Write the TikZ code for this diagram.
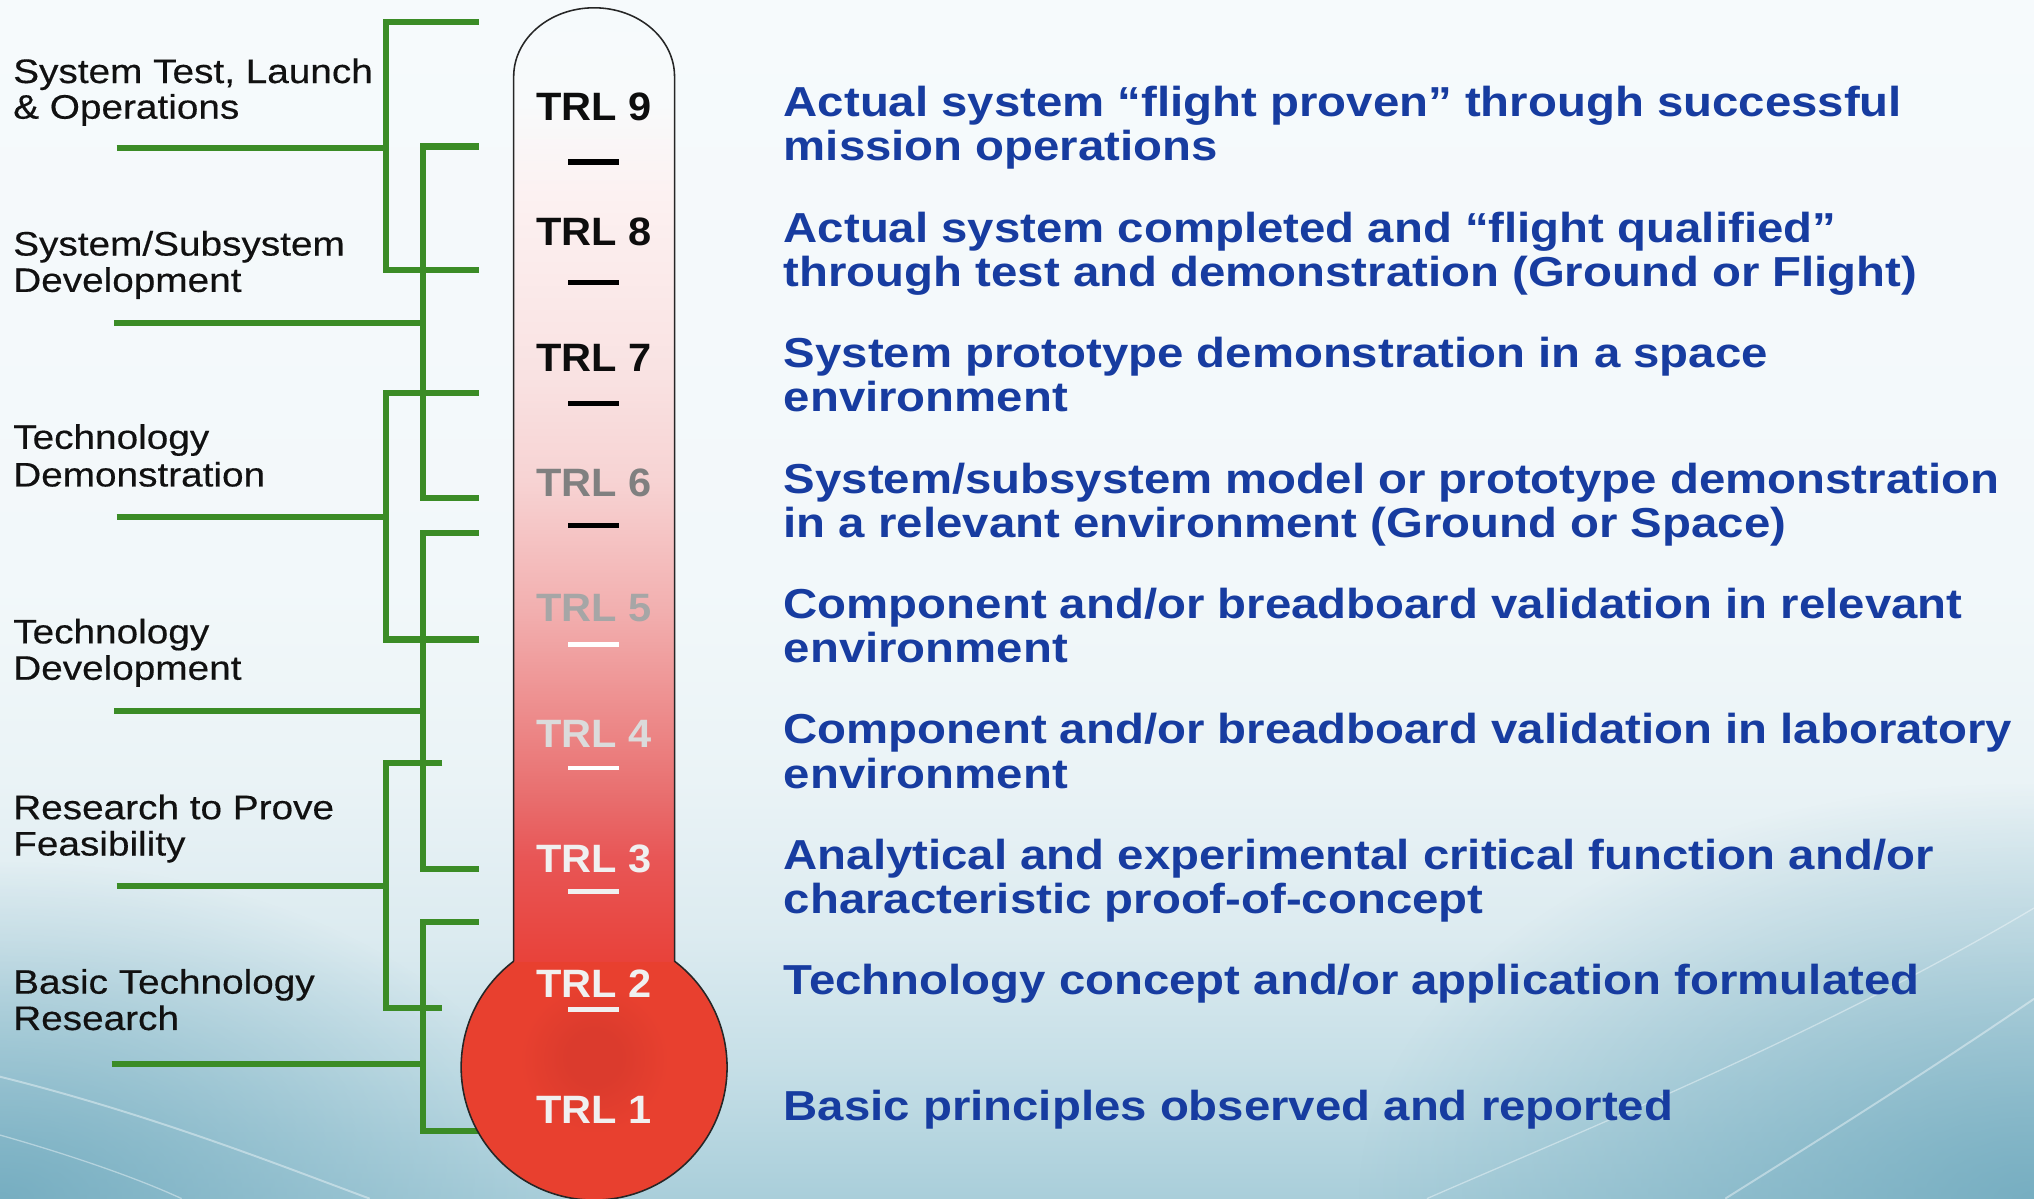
\documentclass[tikz,border=0pt]{standalone}
\usepackage{fontspec}
\newfontfamily\lfont[FakeStretch=1.14,FakeBold=0.4]{Liberation Sans}
\newfontfamily\rfont[FakeStretch=1.13]{Liberation Sans}
\newfontfamily\tfont[FakeStretch=1.05]{Liberation Sans}
\usetikzlibrary{fadings}

\definecolor{grn}{HTML}{3B8C26}
\definecolor{descblue}{HTML}{173CA0}
\definecolor{labblack}{HTML}{111111}
\definecolor{bulbred}{HTML}{E8402F}
\definecolor{bulbdark}{HTML}{DB3B2D}
\definecolor{glowc}{HTML}{6AA6BB}
% tube colours, bottom to top
\definecolor{ta}{HTML}{E8423A}
\definecolor{tb}{HTML}{E85656}
\definecolor{tc}{HTML}{E86C6C}
\definecolor{td}{HTML}{EC8585}
\definecolor{te}{HTML}{F2AFAF}
\definecolor{tf}{HTML}{F7D3D3}
\definecolor{tg}{HTML}{F9E2E2}
\definecolor{th}{HTML}{FCF1F1}
\definecolor{ti}{HTML}{F8FAFB}
\definecolor{tj}{HTML}{F6FAFC}
% background colours, bottom to top
\definecolor{ba}{HTML}{A9CEDA}
\definecolor{bb}{HTML}{C6DFE7}
\definecolor{bc}{HTML}{DCEBF0}
\definecolor{bd}{HTML}{EAF3F6}
\definecolor{be}{HTML}{F2F8FA}
\definecolor{bf}{HTML}{F6FAFC}

\pgfdeclareverticalshading{tubeshade}{100bp}{color(0bp)=(ta); color(25bp)=(ta); color(30.5bp)=(tb); color(33.4bp)=(tc); color(37bp)=(td); color(43.4bp)=(te); color(50.2bp)=(tf); color(55.7bp)=(tg); color(65.2bp)=(th); color(70bp)=(ti); color(75bp)=(tj); color(100bp)=(tj)}
\pgfdeclareverticalshading{bgshade}{100bp}{color(0bp)=(ba); color(25bp)=(ba); color(30.6bp)=(bb); color(36bp)=(bc); color(42.5bp)=(bd); color(50.6bp)=(be); color(75bp)=(bf); color(100bp)=(bf)}
\pgfdeclareradialshading{bulbshade}{\pgfpoint{0bp}{2bp}}{color(0bp)=(bulbdark); color(5bp)=(bulbdark); color(14bp)=(bulbred); color(50bp)=(bulbred)}
\tikzfading[name=glow, inner color=transparent!0, outer color=transparent!100]

\begin{document}
\begin{tikzpicture}[x=1pt,y=-1pt,
  grnline/.style={draw=grn, line width=4.8pt, line join=miter},
  lab/.style={anchor=base west, inner sep=0pt, text=labblack, font=\lfont\fontsize{26.2}{28}\selectfont},
  desc/.style={anchor=base west, inner sep=0pt, text=descblue, font=\rfont\bfseries\fontsize{32.3}{34}\selectfont},
  trl/.style={anchor=base, inner sep=0pt, font=\tfont\bfseries\fontsize{30.5}{32}\selectfont},
  dashmark/.style={line width=3.6pt},
  outline/.style={draw=black!85, line width=1.2pt},
  swoosh/.style={draw=white, line width=1.5pt, opacity=0.4}]
\useasboundingbox (0,0) rectangle (1568,924);
\clip (0,0) rectangle (1568,924);

% background
\shade[shading=bgshade] (0,0) rectangle (1568,924);
\fill[glowc, path fading=glow, opacity=0.8] (0,924) ellipse [x radius=430, y radius=260];
\fill[glowc, path fading=glow, opacity=0.8] (1568,924) ellipse [x radius=520, y radius=320];
\draw[swoosh] (0,830) .. controls (120,860) and (220,900) .. (285,924);
\draw[swoosh, line width=1pt] (0,875) .. controls (60,892) and (110,910) .. (140,924);
\draw[swoosh] (1568,770) .. controls (1480,830) and (1400,880) .. (1330,924);
\draw[swoosh, line width=1pt] (1568,700) .. controls (1400,800) and (1200,880) .. (1100,924);

% green brackets
\draw[grnline] (369,17) -- (297.5,17) -- (297.5,208) -- (369,208);
\draw[grnline] (90,114) -- (297.5,114);
\draw[grnline] (369,113) -- (326,113) -- (326,384) -- (369,384);
\draw[grnline] (88,249) -- (326,249);
\draw[grnline] (369,303) -- (297.5,303) -- (297.5,493) -- (369,493);
\draw[grnline] (90,398.5) -- (297.5,398.5);
\draw[grnline] (369,411) -- (326,411) -- (326,670) -- (369,670);
\draw[grnline] (88,548) -- (326,548);
\draw[grnline] (341,588) -- (297.5,588) -- (297.5,777) -- (341,777);
\draw[grnline] (90,683) -- (297.5,683);
\draw[grnline] (369,711) -- (326,711) -- (326,872) -- (374,872);
\draw[grnline] (86,820) -- (326,820);

% thermometer
\shade[shading=bulbshade] (458,822.6) circle [radius=102.5];
\shade[shading=tubeshade] (396,741.5) -- (396,59) arc[start angle=180, end angle=360, x radius=62, y radius=53] -- (520,741.5) -- cycle;
\draw[outline] (396,741) -- (396,59) arc[start angle=180, end angle=360, x radius=62, y radius=53] -- (520,741) arc[start angle=-52.77, end angle=232.77, radius=102.5];

% TRL labels
\node[trl, text=black!95] (trl9) at (458,93) {TRL 9};
\node[trl, text=black!95] (trl8) at (458,189.6) {TRL 8};
\node[trl, text=black!95] (trl7) at (458,286.2) {TRL 7};
\node[trl, text=black!50] (trl6) at (458,382.8) {TRL 6};
\node[trl, text=black!35] (trl5) at (458,479.4) {TRL 5};
\node[trl, text=black!14] (trl4) at (458,576) {TRL 4};
\node[trl, text=black!6] (trl3) at (458,672.6) {TRL 3};
\node[trl, text=black!6] (trl2) at (458,769.2) {TRL 2};
\node[trl, text=black!6] (trl1) at (458,865.8) {TRL 1};

\draw[dashmark, draw=black, line width=4.4pt] (438,125) -- (477,125);
\draw[dashmark, draw=black] (438,218) -- (477,218);
\draw[dashmark, draw=black] (438,311) -- (477,311);
\draw[dashmark, draw=black] (438,405) -- (477,405);
\draw[dashmark, draw=white] (438,497) -- (477,497);
\draw[dashmark, draw=white] (438,592) -- (477,592);
\draw[dashmark, draw=black!6] (438,687) -- (477,687);
\draw[dashmark, draw=black!6] (438,778) -- (477,778);

% left labels
\node[lab] (la1) at (10,64) {System Test, Launch};
\node[lab] (la2) at (10,91.5) {\& Operations};
\node[lab] (lb1) at (10,197) {System/Subsystem};
\node[lab] (lb2) at (10,225) {Development};
\node[lab] (lc1) at (10,346) {Technology};
\node[lab] (lc2) at (10,375) {Demonstration};
\node[lab] (ld1) at (10,496) {Technology};
\node[lab] (ld2) at (10,524) {Development};
\node[lab] (le1) at (10,631.5) {Research to Prove};
\node[lab] (le2) at (10,659.5) {Feasibility};
\node[lab] (lf1) at (10,766) {Basic Technology};
\node[lab] (lf2) at (10,794) {Research};

% descriptions
\node[desc] (d9a) at (604,90) {Actual system “flight proven” through successful};
\node[desc] (d9b) at (604,124) {mission operations};
\node[desc] (d8a) at (604,186.7) {Actual system completed and “flight qualified”};
\node[desc] (d8b) at (604,220.7) {through test and demonstration (Ground or Flight)};
\node[desc] (d7a) at (604,283.4) {System prototype demonstration in a space};
\node[desc] (d7b) at (604,317.4) {environment};
\node[desc] (d6a) at (604,380.1) {System/subsystem model or prototype demonstration};
\node[desc] (d6b) at (604,414.1) {in a relevant environment (Ground or Space)};
\node[desc] (d5a) at (604,476.8) {Component and/or breadboard validation in relevant};
\node[desc] (d5b) at (604,510.8) {environment};
\node[desc] (d4a) at (604,573.5) {Component and/or breadboard validation in laboratory};
\node[desc] (d4b) at (604,607.5) {environment};
\node[desc] (d3a) at (604,670.2) {Analytical and experimental critical function and/or};
\node[desc] (d3b) at (604,704.2) {characteristic proof-of-concept};
\node[desc] (d2a) at (604,766.9) {Technology concept and/or application formulated};
\node[desc] (d1a) at (604,863.6) {Basic principles observed and reported};
\end{tikzpicture}
\end{document}
